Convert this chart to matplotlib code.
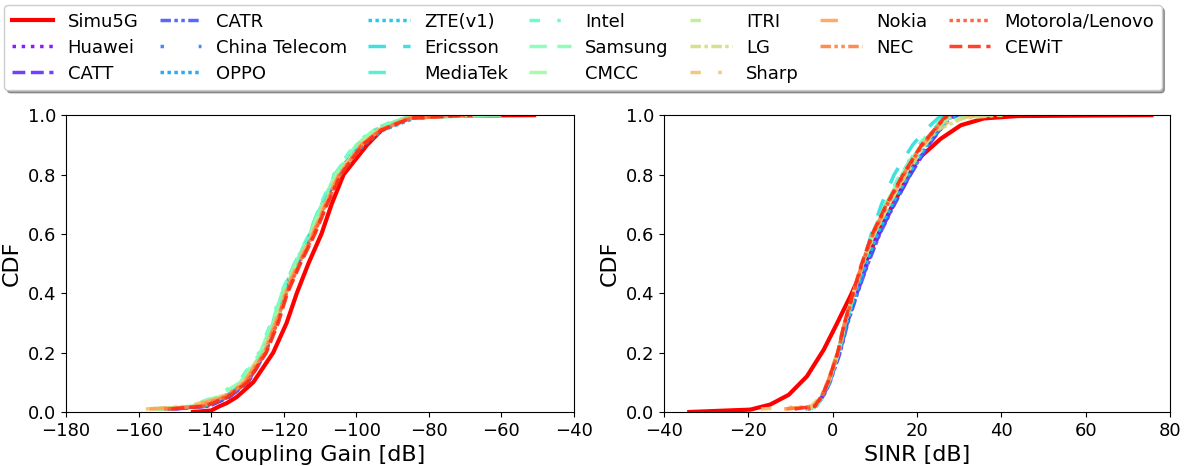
import numpy as np
import matplotlib
matplotlib.use('Agg')
import matplotlib.pyplot as plt

# CDF levels shared by the company curves
levels = [0.01, 0.02, 0.05, 0.1, 0.2, 0.3, 0.4, 0.5, 0.6, 0.7, 0.8, 0.9, 0.95, 0.99, 1.0]

companies = ['Huawei', 'CATT', 'CATR', 'China Telecom', 'OPPO', 'ZTE(v1)', 'Ericsson',
             'MediaTek', 'Intel', 'Samsung', 'CMCC', 'ITRI', 'LG', 'Sharp', 'Nokia',
             'NEC', 'Motorola/Lenovo', 'CEWiT']

# Simu5G curves
simu_cg_x = [-145, -140, -137.6, -135.7, -133, -128.4, -122.9, -119.2, -116.4, -113.2,
             -109.6, -106.8, -103.5, -97, -93, -86, -75, -51]
simu_cg_y = [0, 0.005, 0.02, 0.03, 0.05, 0.1, 0.2, 0.3, 0.4, 0.5, 0.6, 0.7, 0.8, 0.9,
             0.95, 0.99, 0.998, 1.0]
simu_sinr_x = [-34, -19.5, -14.8, -10.4, -6.1, -2.1, 1.1, 4.2, 7.4, 11.4, 15.3, 20.1,
               25.6, 30.4, 35.9, 43.9, 75.6]
simu_sinr_y = [0, 0.008, 0.025, 0.058, 0.12, 0.21, 0.30, 0.39, 0.49, 0.62, 0.725, 0.85,
               0.92, 0.966, 0.989, 0.997, 1.0]

# coupling gain [dB] of each company at the levels above
cg_huawei = [-152, -141, -135.5, -130, -125.2, -122.3, -119.6, -116.3, -112.4, -109, -105, -99, -94, -86, -72]
cg_catt = [-150, -140.5, -135, -129.8, -125, -122, -119.5, -116, -112, -108.8, -105, -98.8, -93.5, -85, -68]
cg_catr = [-151, -141, -135.3, -130, -125.4, -122.2, -119.8, -116.5, -112.6, -109.2, -105.2, -99.2, -94.2, -86.5, -74]
cg_ct = [-153, -142, -136, -130.6, -125.8, -122.7, -120.2, -116.7, -112.6, -109.2, -105, -98.5, -93, -84, -66]
cg_oppo = [-152, -141.5, -135.8, -130.4, -125.6, -122.5, -120, -116.4, -112.2, -108.8, -104.5, -98, -92.5, -84, -78]
cg_zte = [-154, -142.5, -136.2, -130.8, -126, -122.9, -120.4, -116.8, -112.8, -109.5, -105.5, -99.2, -94, -85.5, -72]
cg_ericsson = [-153, -142, -136, -130.5, -125.6, -122.6, -120.2, -116.6, -112.6, -109.4, -105.5, -99.5, -94.5, -87, -75]
cg_mediatek = [-154, -143, -136.5, -131, -126, -123, -120.6, -117, -113, -109.8, -106, -100, -95, -87, -70]
cg_intel = [-156, -146, -139, -132.5, -126.8, -123.5, -120.8, -117, -113, -109.8, -106.2, -100.5, -95.5, -88, -64]
cg_samsung = [-155, -145, -138.5, -132, -126.5, -123.2, -120.5, -116.8, -112.8, -109.5, -105.8, -100, -95, -87, -60]
cg_cmcc = [-156, -145.5, -138, -131.5, -126, -122.8, -120.2, -116.5, -112.5, -109.2, -105.5, -99.8, -94.8, -86.5, -66]
cg_itri = [-154, -143.5, -137, -131, -125.6, -122.3, -119.8, -116.2, -112.2, -108.8, -105, -99, -94, -85.5, -70]
cg_lg = [-155, -144, -137, -131, -125.5, -122, -119.4, -115.8, -112, -108.6, -104.8, -98.8, -93.5, -85, -68]
cg_sharp = [-158, -146, -137.5, -131.2, -125.8, -122.4, -119.8, -116.2, -112.2, -108.9, -105, -99, -94, -86, -72]
cg_nokia = [-157, -145, -137.2, -131, -125.6, -122.3, -119.7, -116.1, -112, -108.6, -104.8, -98.6, -93.5, -85.5, -74]
cg_nec = [-153, -143, -136.5, -130.6, -125.3, -122, -119.4, -115.8, -111.8, -108.4, -104.6, -98.5, -93.5, -85.5, -72]
cg_moto = [-152, -142, -136, -130.2, -125, -121.8, -119.2, -115.6, -111.6, -108.2, -104.4, -98.4, -93.2, -85, -70]
cg_cewit = [-151, -141.5, -135.5, -130, -124.8, -121.5, -119, -115.4, -111.4, -108, -104.2, -98.2, -93, -85, -68]

# SINR [dB] of each company at the levels above
sinr_huawei = [-6, -4.2, -2.6, -0.9, 1.5, 3.3, 5.6, 8.0, 10.8, 14.3, 18.2, 22.5, 25.2, 27.5, 29.5]
sinr_catt = [-5.8, -4.0, -2.4, -0.7, 1.7, 3.5, 5.8, 8.3, 11.1, 14.6, 18.5, 22.8, 25.5, 27.8, 30]
sinr_catr = [-5.6, -3.9, -2.3, -0.6, 1.8, 3.6, 5.9, 8.4, 11.2, 14.7, 18.4, 22.6, 25.4, 27.6, 30]
sinr_ct = [-6.5, -4.4, -2.8, -1.1, 1.3, 3.1, 5.3, 7.6, 10.3, 13.7, 17.6, 22.0, 25.0, 27.5, 33]
sinr_oppo = [-6, -4.2, -2.7, -1.0, 1.4, 3.2, 5.4, 7.8, 10.5, 14.0, 17.9, 22.2, 25.0, 27.2, 31]
sinr_zte = [-5.8, -4.1, -2.6, -0.9, 1.5, 3.3, 5.5, 7.9, 10.6, 14.1, 18.0, 22.3, 25.1, 27.3, 29]
sinr_ericsson = [-5.5, -3.8, -2.4, -0.8, 1.5, 3.2, 5.2, 7.2, 9.2, 11.6, 14.6, 19.0, 22.0, 25.0, 26.5]
sinr_mediatek = [-5.5, -3.9, -2.5, -0.9, 1.4, 3.1, 5.1, 7.2, 9.5, 12.5, 16.2, 20.8, 23.8, 26.2, 28]
sinr_intel = [-6, -4.1, -2.6, -1.0, 1.3, 3.0, 5.0, 7.1, 9.4, 12.4, 16.0, 20.5, 23.5, 26.0, 27.5]
sinr_samsung = [-5.7, -4.0, -2.5, -0.9, 1.4, 3.0, 5.0, 7.1, 9.5, 12.6, 16.4, 21.0, 24.0, 26.8, 36]
sinr_cmcc = [-6, -4.2, -2.7, -1.1, 1.2, 2.9, 4.9, 7.0, 9.6, 12.9, 16.8, 21.3, 24.3, 27.5, 38]
sinr_itri = [-6.2, -4.3, -2.8, -1.2, 1.1, 2.8, 4.9, 7.1, 9.8, 13.3, 17.3, 21.8, 24.8, 30, 41]
sinr_lg = [-6, -4.2, -2.7, -1.1, 1.2, 2.9, 5.0, 7.2, 9.9, 13.4, 17.4, 21.9, 24.8, 31, 40]
sinr_sharp = [-17, -5.0, -3.0, -1.3, 1.1, 2.8, 4.9, 7.1, 9.8, 13.3, 17.2, 21.6, 24.5, 29, 37]
sinr_nokia = [-11.5, -4.6, -2.9, -1.2, 1.1, 2.8, 4.8, 7.0, 9.6, 13.1, 17.0, 21.4, 24.4, 26.8, 28.5]
sinr_nec = [-11, -4.4, -2.8, -1.1, 1.2, 2.9, 4.9, 7.0, 9.5, 12.9, 16.8, 21.2, 24.2, 26.6, 28]
sinr_moto = [-6, -4.1, -2.6, -1.0, 1.3, 3.0, 5.0, 7.1, 9.6, 13.0, 16.9, 21.3, 24.3, 26.5, 28]
sinr_cewit = [-9, -4.2, -2.7, -1.1, 1.2, 2.8, 4.8, 6.9, 9.4, 12.8, 16.7, 21.1, 24.1, 26.4, 27.5]

cg_all = [cg_huawei, cg_catt, cg_catr, cg_ct, cg_oppo, cg_zte, cg_ericsson, cg_mediatek,
          cg_intel, cg_samsung, cg_cmcc, cg_itri, cg_lg, cg_sharp, cg_nokia, cg_nec,
          cg_moto, cg_cewit]
sinr_all = [sinr_huawei, sinr_catt, sinr_catr, sinr_ct, sinr_oppo, sinr_zte, sinr_ericsson,
            sinr_mediatek, sinr_intel, sinr_samsung, sinr_cmcc, sinr_itri, sinr_lg,
            sinr_sharp, sinr_nokia, sinr_nec, sinr_moto, sinr_cewit]

styles = [':', '--', (0, (3, 1, 1, 1, 1, 1)), (0, (1, 10)), (0, (1, 1)), (0, (1, 1)),
          (0, (5, 5)), (0, (5, 10)), (0, (3, 5, 1, 5)), (5, (10, 3)), (0, (5, 10)),
          (0, (3, 10, 1, 10)), (0, (3, 1, 1, 1)), (0, (3, 5, 1, 5)), (0, (5, 10)),
          (0, (3, 1, 1, 1, 1, 1)), (0, (1, 1)), '--']
colors = plt.cm.rainbow(np.linspace(0, 1, len(companies) + 1))

fig = plt.figure(figsize=(11.85, 4.66), dpi=100)
ax1 = fig.add_axes([0.0557, 0.1159, 0.4287, 0.637])
ax2 = fig.add_axes([0.5603, 0.1159, 0.4270, 0.637])

ax1.plot(simu_cg_x, simu_cg_y, color='red', lw=3, label='Simu5G')
ax2.plot(simu_sinr_x, simu_sinr_y, color='red', lw=3)
for i, name in enumerate(companies):
    ax1.plot(cg_all[i], levels, color=colors[i], ls=styles[i], lw=2.5, alpha=0.9, label=name)
    ax2.plot(sinr_all[i], levels, color=colors[i], ls=styles[i], lw=2.5, alpha=0.9)

ax1.set_xlim(-180, -40)
ax2.set_xlim(-40, 80)
for ax in (ax1, ax2):
    ax.set_ylim(0, 1.0)
    ax.set_ylabel('CDF', fontsize=16)
    ax.tick_params(labelsize=13)
ax1.set_xlabel('Coupling Gain [dB]', fontsize=16)
ax2.set_xlabel('SINR [dB]', fontsize=16)

fig.legend(loc='upper center', bbox_to_anchor=(0.492, 1.008), ncol=7, fontsize=13,
           shadow=True, labelspacing=0.45, columnspacing=1.18, handlelength=2.3,
           handletextpad=0.8)

plt.savefig('out.png', dpi=100)
